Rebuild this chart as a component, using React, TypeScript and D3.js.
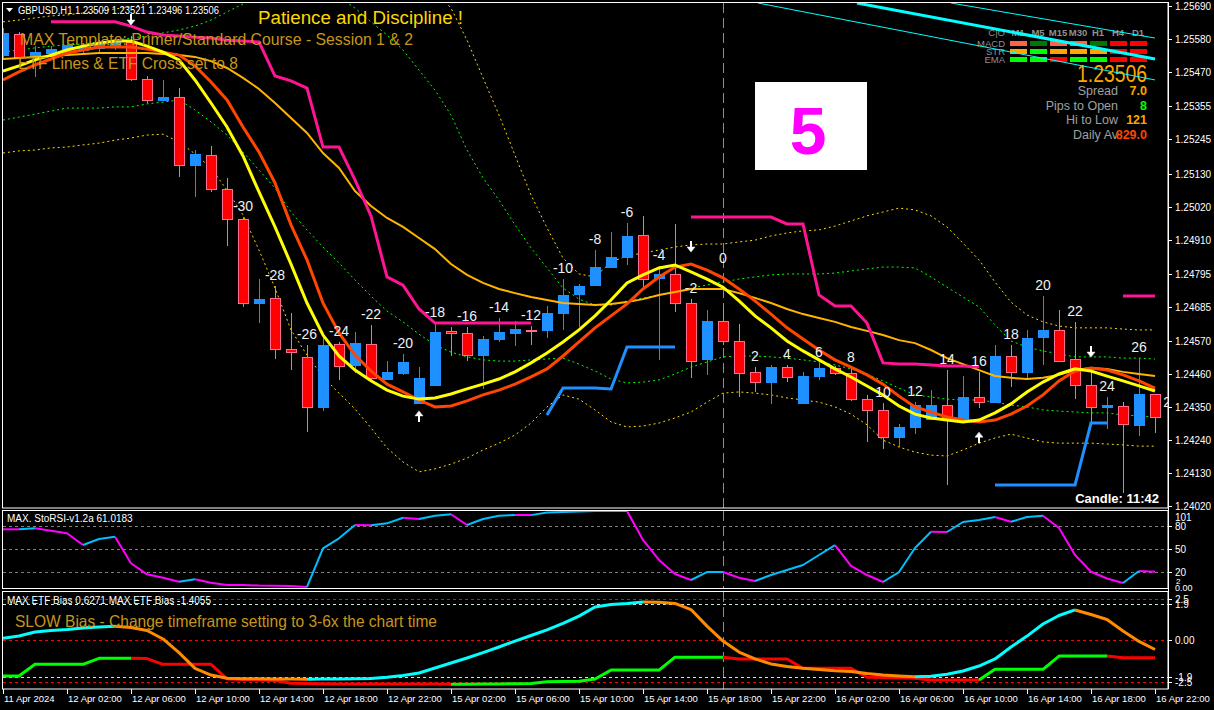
import React from "react";
import * as d3 from "d3";

// ---------------- DATA ----------------
const timeLabels = ["11 Apr 2024","12 Apr 02:00","12 Apr 06:00","12 Apr 10:00","12 Apr 14:00","12 Apr 18:00","12 Apr 22:00","15 Apr 02:00","15 Apr 06:00","15 Apr 10:00","15 Apr 14:00","15 Apr 18:00","15 Apr 22:00","16 Apr 02:00","16 Apr 06:00","16 Apr 10:00","16 Apr 14:00","16 Apr 18:00","16 Apr 22:00"];
const timeLabelBars = [0,4,8,12,16,20,24,28,32,36,40,44,48,52,56,60,64,68,72];

const opens = [1.25526,1.25596,1.25520,1.25533,1.25546,1.25543,1.25550,1.25556,1.25570,1.25446,1.25376,1.25386,1.25159,1.25192,1.25079,1.24979,1.24698,1.24715,1.24544,1.24518,1.24351,1.24561,1.24491,1.24561,1.24444,1.24464,1.24364,1.24424,1.24605,1.24598,1.24524,1.24578,1.24598,1.24608,1.24608,1.24665,1.24728,1.24758,1.24818,1.24852,1.24925,1.24782,1.24795,1.24698,1.24511,1.24638,1.24571,1.24468,1.24434,1.24484,1.24364,1.24454,1.24481,1.24464,1.24377,1.24341,1.24250,1.24284,1.24311,1.24357,1.24311,1.24384,1.24367,1.24521,1.24468,1.24584,1.24608,1.24511,1.24424,1.24352,1.24354,1.24291,1.24394];
const highs = [1.25617,1.25603,1.25556,1.25556,1.25570,1.25566,1.25576,1.25583,1.25590,1.25456,1.25443,1.25416,1.25209,1.25222,1.25116,1.24985,1.24778,1.24755,1.24665,1.24558,1.24584,1.24568,1.24601,1.24625,1.24504,1.24528,1.24484,1.24631,1.24618,1.24618,1.24588,1.24648,1.24638,1.24621,1.24688,1.24778,1.24761,1.24875,1.24935,1.24965,1.24989,1.24822,1.24962,1.24711,1.24675,1.24685,1.24628,1.24484,1.24491,1.24491,1.24468,1.24498,1.24488,1.24481,1.24391,1.24364,1.24294,1.24367,1.24407,1.24474,1.24454,1.24468,1.24558,1.24558,1.24608,1.24721,1.24675,1.24635,1.24474,1.24384,1.24367,1.24514,1.24394];
const lows = [1.25516,1.25516,1.25453,1.25523,1.25536,1.25533,1.25533,1.25543,1.25440,1.25366,1.25373,1.25119,1.25052,1.25069,1.24888,1.24685,1.24631,1.24511,1.24474,1.24267,1.24337,1.24441,1.24464,1.24441,1.24441,1.24458,1.24361,1.24421,1.24521,1.24504,1.24411,1.24568,1.24554,1.24558,1.24581,1.24608,1.24618,1.24755,1.24815,1.24825,1.24748,1.24508,1.24668,1.24448,1.24458,1.24558,1.24384,1.24401,1.24361,1.24434,1.24361,1.24441,1.24458,1.24371,1.24234,1.24210,1.24217,1.24260,1.24307,1.24090,1.24307,1.24347,1.24364,1.24417,1.24448,1.24491,1.24501,1.24377,1.24297,1.24277,1.24063,1.24254,1.24264];
const closes = [1.25600,1.25520,1.25536,1.25546,1.25560,1.25553,1.25566,1.25570,1.25446,1.25376,1.25386,1.25159,1.25196,1.25079,1.24979,1.24698,1.24711,1.24544,1.24534,1.24351,1.24558,1.24488,1.24564,1.24448,1.24468,1.24501,1.24448,1.24601,1.24598,1.24524,1.24578,1.24601,1.24611,1.24605,1.24665,1.24725,1.24755,1.24818,1.24852,1.24922,1.24778,1.24795,1.24698,1.24504,1.24638,1.24571,1.24464,1.24434,1.24484,1.24451,1.24454,1.24481,1.24464,1.24377,1.24341,1.24250,1.24284,1.24357,1.24357,1.24311,1.24384,1.24367,1.24521,1.24468,1.24581,1.24608,1.24504,1.24424,1.24351,1.24356,1.24294,1.24394,1.24317];

const fastMA = [1.25473,1.25490,1.25510,1.25526,1.25543,1.25556,1.25566,1.25573,1.25573,1.25556,1.25536,1.25510,1.25443,1.25366,1.25286,1.25189,1.25069,1.24952,1.24828,1.24698,1.24591,1.24521,1.24474,1.24438,1.24407,1.24387,1.24377,1.24381,1.24394,1.24411,1.24427,1.24444,1.24468,1.24498,1.24531,1.24568,1.24608,1.24655,1.24708,1.24765,1.24792,1.24815,1.24825,1.24802,1.24778,1.24751,1.24705,1.24655,1.24615,1.24571,1.24538,1.24508,1.24478,1.24451,1.24421,1.24391,1.24354,1.24327,1.24314,1.24307,1.24301,1.24307,1.24331,1.24361,1.24401,1.24434,1.24461,1.24478,1.24471,1.24454,1.24438,1.24421,1.24404];
const midMA = [1.25443,1.25470,1.25493,1.25513,1.25533,1.25543,1.25553,1.25553,1.25553,1.25546,1.25536,1.25526,1.25490,1.25436,1.25376,1.25286,1.25202,1.25099,1.24959,1.24842,1.24698,1.24598,1.24524,1.24471,1.24427,1.24401,1.24374,1.24351,1.24354,1.24371,1.24391,1.24407,1.24427,1.24451,1.24478,1.24521,1.24568,1.24615,1.24655,1.24695,1.24745,1.24785,1.24818,1.24828,1.24808,1.24782,1.24745,1.24705,1.24661,1.24615,1.24578,1.24541,1.24508,1.24484,1.24458,1.24427,1.24387,1.24351,1.24334,1.24317,1.24307,1.24301,1.24307,1.24327,1.24354,1.24391,1.24438,1.24471,1.24481,1.24474,1.24458,1.24438,1.24414];
const slowMA = [1.25513,1.25516,1.25520,1.25523,1.25526,1.25530,1.25533,1.25533,1.25533,1.25533,1.25530,1.25526,1.25520,1.25506,1.25483,1.25450,1.25413,1.25366,1.25316,1.25266,1.25199,1.25149,1.25072,1.25022,1.24982,1.24952,1.24915,1.24878,1.24828,1.24792,1.24765,1.24745,1.24731,1.24718,1.24708,1.24698,1.24695,1.24691,1.24695,1.24701,1.24711,1.24725,1.24735,1.24745,1.24745,1.24745,1.24731,1.24715,1.24698,1.24678,1.24661,1.24648,1.24635,1.24618,1.24605,1.24591,1.24574,1.24564,1.24541,1.24514,1.24494,1.24474,1.24454,1.24448,1.24444,1.24448,1.24458,1.24474,1.24481,1.24478,1.24468,1.24461,1.24454];

const N = null;
const upperStop = [N,N,N,1.25637,1.25637,1.25637,1.25637,1.25637,1.25623,1.25603,1.25593,1.25590,1.25586,1.25583,1.25576,1.25573,1.25570,1.25456,1.25440,1.25416,1.25219,1.25219,1.25109,1.24989,1.24785,1.24758,1.24678,1.24631,1.24631,1.24631,1.24631,1.24631,1.24631,1.24631,N,N,N,N,N,N,N,N,N,1.24985,1.24985,1.24985,1.24985,1.24985,1.24985,1.24962,1.24962,1.24725,1.24688,1.24688,1.24631,1.24498,1.24494,1.24494,1.24491,1.24488,1.24488,1.24484,N,N,N,N,N,N,N,N,1.24721,1.24721,1.24721];
const lowerStop = [N,N,N,N,N,N,N,N,N,N,N,N,N,N,N,N,N,N,N,N,N,N,N,N,N,N,N,N,N,N,N,N,N,N,1.24324,1.24414,1.24414,1.24414,1.24411,1.24551,1.24551,1.24551,1.24551,N,N,N,N,N,N,N,N,N,N,N,N,N,N,N,N,N,N,N,1.24090,1.24090,1.24090,1.24090,1.24090,1.24090,1.24297,1.24297,N,N,N];

const bandUpper1 = [1.25536,1.25543,1.25550,1.25556,1.25560,1.25563,1.25570,1.25576,1.25583,1.25590,1.25600,1.25610,1.25623,1.25643,1.25670,1.25697,1.25727,1.25760,1.25777,1.25770,1.25750,1.25720,1.25683,1.25637,1.25593,1.25543,1.25476,1.25409,1.25326,1.25209,1.25116,1.25042,1.24959,1.24882,1.24815,1.24748,1.24711,1.24691,1.24691,1.24705,1.24715,1.24725,1.24735,1.24748,1.24758,1.24768,1.24778,1.24785,1.24792,1.24795,1.24795,1.24795,1.24798,1.24805,1.24812,1.24818,1.24818,1.24815,1.24785,1.24751,1.24718,1.24685,1.24625,1.24571,1.24551,1.24538,1.24528,1.24518,1.24518,1.24518,1.24514,1.24514,1.24511];
const bandLower1 = [1.25309,1.25319,1.25329,1.25339,1.25349,1.25349,1.25349,1.25353,1.25353,1.25363,1.25369,1.25376,1.25343,1.25303,1.25259,1.25202,1.25142,1.25082,1.25002,1.24942,1.24885,1.24832,1.24775,1.24721,1.24671,1.24635,1.24594,1.24558,1.24534,1.24518,1.24508,1.24504,1.24504,1.24508,1.24511,1.24514,1.24494,1.24471,1.24444,1.24431,1.24434,1.24441,1.24461,1.24484,1.24501,1.24518,1.24521,1.24521,1.24518,1.24514,1.24508,1.24501,1.24491,1.24478,1.24461,1.24438,1.24414,1.24391,1.24384,1.24377,1.24374,1.24374,1.24367,1.24357,1.24351,1.24341,1.24337,1.24334,1.24331,1.24331,1.24324,1.24321,1.24317];
const bandUpper2 = [1.25637,1.25643,1.25650,1.25657,1.25660,1.25667,1.25673,1.25680,1.25687,1.25697,1.25710,1.25727,1.25760,1.25810,1.25860,1.25910,1.25951,1.25977,1.25994,1.25994,1.25984,1.25964,1.25937,1.25904,1.25870,1.25837,1.25804,1.25743,1.25683,1.25576,1.25450,1.25326,1.25192,1.25059,1.24949,1.24848,1.24795,1.24785,1.24835,1.24855,1.24865,1.24875,1.24885,1.24892,1.24895,1.24895,1.24902,1.24908,1.24922,1.24932,1.24939,1.24942,1.24955,1.24972,1.24989,1.25002,1.25015,1.25009,1.24989,1.24952,1.24898,1.24842,1.24768,1.24701,1.24658,1.24635,1.24621,1.24615,1.24615,1.24615,1.24611,1.24608,1.24608];
const bandLower2 = [1.25199,1.25206,1.25209,1.25216,1.25219,1.25226,1.25232,1.25242,1.25249,1.25259,1.25262,1.25236,1.25196,1.25149,1.25075,1.24992,1.24875,1.24748,1.24608,1.24524,1.24451,1.24397,1.24344,1.24281,1.24214,1.24167,1.24134,1.24144,1.24160,1.24180,1.24207,1.24230,1.24257,1.24297,1.24351,1.24391,1.24377,1.24341,1.24301,1.24284,1.24287,1.24297,1.24314,1.24334,1.24367,1.24397,1.24401,1.24397,1.24391,1.24381,1.24374,1.24367,1.24351,1.24327,1.24291,1.24240,1.24217,1.24200,1.24190,1.24187,1.24207,1.24230,1.24247,1.24260,1.24247,1.24234,1.24230,1.24230,1.24230,1.24227,1.24224,1.24220,1.24220];

// cyan trend lines: [startBar, startPrice, endBar, endPrice, width]
const trendLines = [
  [59.25, 1.25700, 72, 1.25583, 1],
  [53.375, 1.25700, 72, 1.25513, 3],
  [47.19, 1.25700, 72, 1.25443, 1],
];

const countLabelBars = [15,17,19,21,23,25,27,29,31,33,35,37,39,41,43,45,47,49,51,53,55,57,59,61,63,65,67,69,71,73];
const countLabelOverride = { 45: 1.24812, 73: 1.24331 };

const arrowBars = [8, 43, 68, 26, 61];
const arrowDirs = ["down","down","down","up","up"];
const arrowPrices = [1.25643, 1.24885, 1.24534, 1.24321, 1.24250];

const priceTicks = [1.25690,1.25580,1.25470,1.25355,1.25245,1.25130,1.25020,1.24910,1.24795,1.24685,1.24570,1.24460,1.24350,1.24240,1.24130,1.24020];

const stoRsi = [76.0,76.0,77.3,74.2,70.8,55.5,63.4,66.4,31.7,17.3,12.9,7.7,10.8,6.4,3.4,3.4,2.7,2.5,2.1,0.8,51.2,64.3,81.6,81.3,83.8,91.1,89.4,93.7,95.6,81.6,89.4,93.7,94.7,94.5,97.9,98.6,99.2,99.9,99.9,100,62.1,36.0,17.7,9.9,20.3,20.3,12.9,8.6,16.4,22.9,29.5,42.5,55.5,28.2,16.4,7.3,20.3,51.6,72.9,72.5,85.5,88.1,92.0,85.9,92.0,93.7,77.7,42.5,20.7,11.9,6.0,21.6,20.7];
const stoLevels = [80, 50, 20];

const etfFast = [0.10,0.22,0.43,0.51,0.56,0.64,0.69,0.73,0.67,0.51,0.07,-0.64,-1.46,-1.81,-2.08,-2.12,-2.14,-2.16,-2.16,-2.19,-2.16,-2.15,-2.14,-2.10,-1.96,-1.83,-1.70,-1.44,-1.18,-0.92,-0.64,-0.35,-0.04,0.25,0.54,0.88,1.26,1.73,1.86,1.94,2.12,2.09,1.94,1.60,0.74,-0.04,-0.61,-0.97,-1.23,-1.36,-1.46,-1.52,-1.59,-1.63,-1.73,-1.81,-1.86,-1.90,-1.87,-1.77,-1.60,-1.34,-0.97,-0.35,0.22,0.85,1.29,1.58,1.34,1.08,0.48,-0.06,-0.48];
const etfSlow = [-1.86,-1.86,-1.25,-1.25,-1.25,-1.25,-0.94,-0.94,-0.94,-0.95,-1.25,-1.25,-1.25,-1.25,-2.16,-2.22,-2.28,-2.34,-2.68,-2.70,-2.74,-2.75,-2.76,-2.76,-2.76,-2.76,-2.76,-2.76,-2.80,-2.79,-2.76,-2.76,-2.74,-2.70,-2.49,-2.46,-2.44,-2.16,-1.55,-1.55,-1.55,-1.55,-0.88,-0.88,-0.88,-0.88,-0.97,-0.97,-0.97,-0.97,-1.46,-1.46,-1.46,-1.46,-1.96,-1.98,-2.02,-2.08,-2.28,-2.28,-2.28,-2.28,-1.51,-1.51,-1.51,-1.51,-0.82,-0.82,-0.82,-0.82,-0.91,-0.91,-0.91];
const etfRedLevels = [2.5, 0, -2.5];
const etfCyanLevels = [1.9, -1.9];
const etfTickLabels = ["2.5","1.9","0.00","-1.9","-2.5"];
const etfTickValues = [2.5, 1.9, 0, -1.9, -2.5];

const dashTimeframes = ["M1","M5","M15","M30","H1","H4","D1"];
const dashRows = ["MACD","STR","EMA"];
const dashMacd = ["#FF6347","#007800","#FF6347","#FF6347","#007800","#FF0000","#FF0000"];
const dashStr = ["#FFA500","#00FF00","#FFA500","#FFA500","#FFA500","#FF0000","#FF0000"];
const dashEma = ["#00FF00","#00FF00","#FF0000","#00FF00","#00FF00","#FF0000","#FF0000"];
const infoLabels = ["Spread","Pips to Open","Hi to Low","Daily Av"];
const infoValues = ["7.0","8","121","829.0"];
const infoColors = ["#FFA500","#00FF00","#FFA500","#FF4500"];

// ---------------- CHART ----------------
const FONT = "'Liberation Sans', Arial, sans-serif";

const x = d3.scaleLinear().domain([0, 72]).range([3, 1155]);
const y = d3.scaleLinear().domain([1.24020, 1.25690]).range([506, 6]);
const yS = d3.scaleLinear().domain([0, 100]).range([587.6, 510.9]);
const yE = d3.scaleLinear().domain([-2.5, -1.9, 0, 1.9, 2.5]).range([681.8, 676.8, 640.3, 603.8, 598.8]);

const lineGen = (ys: any) =>
  d3.line<any>().defined((d) => d != null).x((_, i) => x(i)).y((d) => ys(d));

function colorRuns(vals: number[], up: string, down: string, init: string) {
  const runs: { color: string; idx: number[] }[] = [];
  let color = init;
  let cur: any = null;
  for (let i = 0; i < vals.length - 1; i++) {
    const dv = vals[i + 1] - vals[i];
    if (dv > 0) color = up;
    else if (dv < 0) color = down;
    if (!cur || cur.color !== color) {
      cur = { color, idx: [i, i + 1] };
      runs.push(cur);
    } else cur.idx.push(i + 1);
  }
  return runs;
}

function RunLines({ vals, ys, up, down, init, width }: any) {
  const runs = colorRuns(vals, up, down, init);
  const g = d3.line<number>().x((i) => x(i)).y((i) => ys(vals[i]));
  return (
    <g>
      {runs.map((r, k) => (
        <path key={k} d={g(r.idx) || ""} fill="none" stroke={r.color} strokeWidth={width} strokeLinejoin="round" />
      ))}
    </g>
  );
}

function Arrow({ cx, cy, dir }: any) {
  const s = dir === "down" ? 1 : -1;
  return (
    <g stroke="#fff" fill="#fff">
      <line x1={cx} y1={cy - 6 * s} x2={cx} y2={cy + 2 * s} strokeWidth={2} />
      <path d={`M${cx - 4},${cy} L${cx + 4},${cy} L${cx},${cy + 5 * s} Z`} strokeWidth={0.5} />
    </g>
  );
}

export default function App() {
  const mainLine = lineGen(y);
  const sepX = x(45) + 0.5;

  return (
    <div style={{ width: 1214, height: 710, background: "#000" }}>
      <style>{"body{margin:0;background:#000;overflow:hidden}"}</style>
      <svg width={1214} height={710} style={{ display: "block", background: "#000" }} fontFamily={FONT}>
        <defs>
          <clipPath id="mainClip"><rect x={3} y={3} width={1165} height={505} /></clipPath>
          <clipPath id="stoClip"><rect x={3} y={511} width={1165} height={78} /></clipPath>
          <clipPath id="etfClip"><rect x={3} y={592} width={1165} height={97} /></clipPath>
        </defs>

        {/* dashboard (drawn under the chart objects) */}
        <text x={1005} y={36} textAnchor="end" fill="#909090" fontSize={9.5}>C|O</text>
        {dashTimeframes.map((tf, k) => (
          <text key={tf} x={1018 + k * 20} y={36} textAnchor="middle" fill="#909090" fontSize={9.5} fontWeight="bold">{tf}</text>
        ))}
        {dashRows.map((r, j) => (
          <text key={r} x={1005} y={47 + j * 8} textAnchor="end" fill="#909090" fontSize={9.5}>{r}</text>
        ))}
        {[dashMacd, dashStr, dashEma].map((row, j) =>
          row.map((col, k) => (
            <rect key={j + "-" + k} x={1010 + k * 20} y={41 + j * 8} width={17} height={5} fill={col} />
          ))
        )}
        <text x={1077} y={82} fill="#FFA500" fontSize={23} textLength={70} lengthAdjust="spacingAndGlyphs">1.23506</text>
        {infoLabels.map((l, k) => (
          <text key={l} x={1118} y={95 + k * 14.7} textAnchor="end" fill="#A0A0A0" fontSize={12.5}>{l}</text>
        ))}
        {infoValues.map((v, k) => (
          <text key={k} x={1147} y={95 + k * 14.7} textAnchor="end" fill={infoColors[k]} fontSize={12.5} fontWeight="bold">{v}</text>
        ))}

        {/* ---------- MAIN PANEL ---------- */}
        <g clipPath="url(#mainClip)">
          {/* bands */}
          <path d={mainLine(bandUpper2 as any) || ""} fill="none" stroke="#FFD700" strokeWidth={1} strokeDasharray="2,3" />
          <path d={mainLine(bandLower2 as any) || ""} fill="none" stroke="#FFD700" strokeWidth={1} strokeDasharray="2,3" />
          <path d={mainLine(bandUpper1 as any) || ""} fill="none" stroke="#00FF00" strokeWidth={1} strokeDasharray="2,3" />
          <path d={mainLine(bandLower1 as any) || ""} fill="none" stroke="#00FF00" strokeWidth={1} strokeDasharray="2,3" />

          {/* separator */}
          <line x1={sepX} x2={sepX} y1={3} y2={508} stroke="#32CD32" strokeDasharray="10,5" />

          {/* candles */}
          {closes.map((c, i) => {
            const o = opens[i];
            const bull = c >= o;
            const cx = Math.round(x(i));
            const top = Math.round(y(Math.max(o, c)));
            const bot = Math.round(y(Math.min(o, c)));
            const fill = bull ? "#1E90FF" : "#FF0000";
            const edge = bull ? "#1E90FF" : "#FF6E8E";
            const h = Math.max(bot - top, 1);
            return (
              <g key={i}>
                <line x1={cx + 0.5} x2={cx + 0.5} y1={Math.round(y(highs[i]))} y2={Math.round(y(lows[i]))} stroke={edge} strokeWidth={1} />
                <rect x={cx - 4.5} y={top + 0.5} width={10} height={h} fill={fill} stroke={edge} strokeWidth={1} />
              </g>
            );
          })}

          {/* moving averages */}
          <path d={mainLine(slowMA as any) || ""} fill="none" stroke="#FFB400" strokeWidth={2} />
          <path d={mainLine(midMA as any) || ""} fill="none" stroke="#FF4500" strokeWidth={3} />
          <path d={mainLine(fastMA as any) || ""} fill="none" stroke="#FFFF00" strokeWidth={3} />

          {/* stop lines */}
          <path d={mainLine(upperStop as any) || ""} fill="none" stroke="#FF1493" strokeWidth={3} />
          <path d={mainLine(lowerStop as any) || ""} fill="none" stroke="#1E90FF" strokeWidth={3} />

          {/* cyan trend lines */}
          {trendLines.map((t, k) => (
            <line key={k} x1={x(t[0])} y1={y(t[1])} x2={x(t[2])} y2={y(t[3])} stroke="#00FFFF" strokeWidth={t[4]} />
          ))}

          {/* count labels */}
          {countLabelBars.map((b) => {
            const anchor = (countLabelOverride as any)[b] ?? highs[b];
            const cy = y(anchor) - 11;
            return (
              <text key={b} x={x(b)} y={cy + 5} textAnchor="middle" fill="#F0F0F0" fontSize={14}>
                {String(b - 45)}
              </text>
            );
          })}

          {/* arrows */}
          {arrowBars.map((b, k) => (
            <Arrow key={k} cx={x(b)} cy={y(arrowPrices[k])} dir={arrowDirs[k]} />
          ))}
        </g>

        {/* header texts */}
        <path d="M6,8 L13,8 L9.5,12 Z" fill="#fff" />
        <text x={18} y={14} fill="#fff" fontSize={10} textLength={201} lengthAdjust="spacingAndGlyphs">GBPUSD,H1 1.23509 1.23521 1.23496 1.23506</text>
        <text x={258} y={24} fill="#FFD700" fontSize={18} textLength={205} lengthAdjust="spacingAndGlyphs">Patience and Discipline !</text>
        <text x={20} y={45} fill="#C8961A" fontSize={16.5} textLength={393} lengthAdjust="spacingAndGlyphs">MAX Template: Primer/Standard Course - Session 1 &amp; 2</text>
        <text x={18} y={69} fill="#C8961A" fontSize={16.5} textLength={220} lengthAdjust="spacingAndGlyphs">ETF Lines &amp; ETF Cross set to 8</text>

        {/* "5" box */}
        <rect x={755} y={82} width={112} height={88} fill="#fff" />
        <text x={808} y={154} textAnchor="middle" fill="#FF00FF" fontSize={66} fontWeight="bold">5</text>

        <text x={1159} y={503} textAnchor="end" fill="#fff" fontSize={13} fontWeight="bold">Candle:  11:42</text>

        {/* main frame + axis */}
        <rect x={2.5} y={2.5} width={1165.5} height={505.5} fill="none" stroke="#fff" strokeWidth={1} />
        {priceTicks.map((p) => (
          <g key={p}>
            <line x1={1168} x2={1172} y1={Math.round(y(p)) + 0.5} y2={Math.round(y(p)) + 0.5} stroke="#fff" />
            <text x={1175} y={y(p) + 4} fill="#fff" fontSize={10}>{p.toFixed(5)}</text>
          </g>
        ))}

        {/* ---------- StoRSI PANEL ---------- */}
        <g clipPath="url(#stoClip)">
          {stoLevels.map((lv) => (
            <line key={lv} x1={3} x2={1168} y1={Math.round(yS(lv)) + 0.5} y2={Math.round(yS(lv)) + 0.5} stroke="#808080" strokeDasharray="3,3" />
          ))}
          <line x1={sepX} x2={sepX} y1={511} y2={589} stroke="#32CD32" strokeDasharray="10,5" />
          <RunLines vals={stoRsi} ys={yS} up="#00BFFF" down="#FF00FF" init="#FF00FF" width={2} />
        </g>
        <rect x={2.5} y={510.5} width={1165.5} height={78} fill="none" stroke="#fff" />
        <text x={7} y={522} fill="#fff" fontSize={10}>MAX. StoRSI-v1.2a 61.0183</text>
        <text x={1175} y={521} fill="#fff" fontSize={10}>101</text>
        {stoLevels.map((lv) => (
          <g key={lv}>
            <line x1={1168} x2={1172} y1={Math.round(yS(lv)) + 0.5} y2={Math.round(yS(lv)) + 0.5} stroke="#fff" />
            <text x={1175} y={yS(lv) + 4} fill="#fff" fontSize={10}>{lv}</text>
          </g>
        ))}
        <text x={1176} y={584} fill="#fff" fontSize={8}>2</text>
        <text x={1175} y={591} fill="#fff" fontSize={9}>0.00</text>

        {/* ---------- ETF PANEL ---------- */}
        <g clipPath="url(#etfClip)">
          {etfRedLevels.map((lv) => (
            <line key={lv} x1={3} x2={1168} y1={Math.round(yE(lv)) + 0.5} y2={Math.round(yE(lv)) + 0.5} stroke="#FF0000" strokeDasharray="3,3" />
          ))}
          {etfCyanLevels.map((lv) => (
            <line key={lv} x1={3} x2={1168} y1={Math.round(yE(lv)) + 0.5} y2={Math.round(yE(lv)) + 0.5} stroke="#B4F0F0" strokeDasharray="3,3" />
          ))}
          <line x1={sepX} x2={sepX} y1={592} y2={689} stroke="#32CD32" strokeDasharray="10,5" />
          <RunLines vals={etfSlow} ys={yE} up="#00FF00" down="#FF0000" init="#00FF00" width={3} />
          <RunLines vals={etfFast} ys={yE} up="#00FFFF" down="#FF8C00" init="#00FFFF" width={3} />
        </g>
        <rect x={2.5} y={591.5} width={1165.5} height={97.5} fill="none" stroke="#fff" />
        <text x={7} y={604} fill="#fff" fontSize={10}>MAX ETF Bias 0.6271  MAX ETF Bias -1.4055</text>
        <text x={15} y={627} fill="#C8961A" fontSize={16.5} textLength={422} lengthAdjust="spacingAndGlyphs">SLOW Bias - Change timeframe setting to 3-6x the chart time</text>
        {etfTickValues.map((v, k) => (
          <g key={k}>
            <line x1={1168} x2={1172} y1={Math.round(yE(v)) + 0.5} y2={Math.round(yE(v)) + 0.5} stroke="#fff" />
            <text x={1175} y={yE(v) + 4} fill="#fff" fontSize={10}>{etfTickLabels[k]}</text>
          </g>
        ))}

        {/* right axis line */}
        <line x1={1168.5} x2={1168.5} y1={2} y2={689} stroke="#fff" />

        {/* time axis */}
        {timeLabelBars.map((b, k) => (
          <g key={b}>
            <line x1={x(b) + 0.5} x2={x(b) + 0.5} y1={689} y2={694} stroke="#fff" />
            <text x={x(b) + 1} y={702} fill="#fff" fontSize={9.5}>{timeLabels[k]}</text>
          </g>
        ))}
      </svg>
    </div>
  );
}
